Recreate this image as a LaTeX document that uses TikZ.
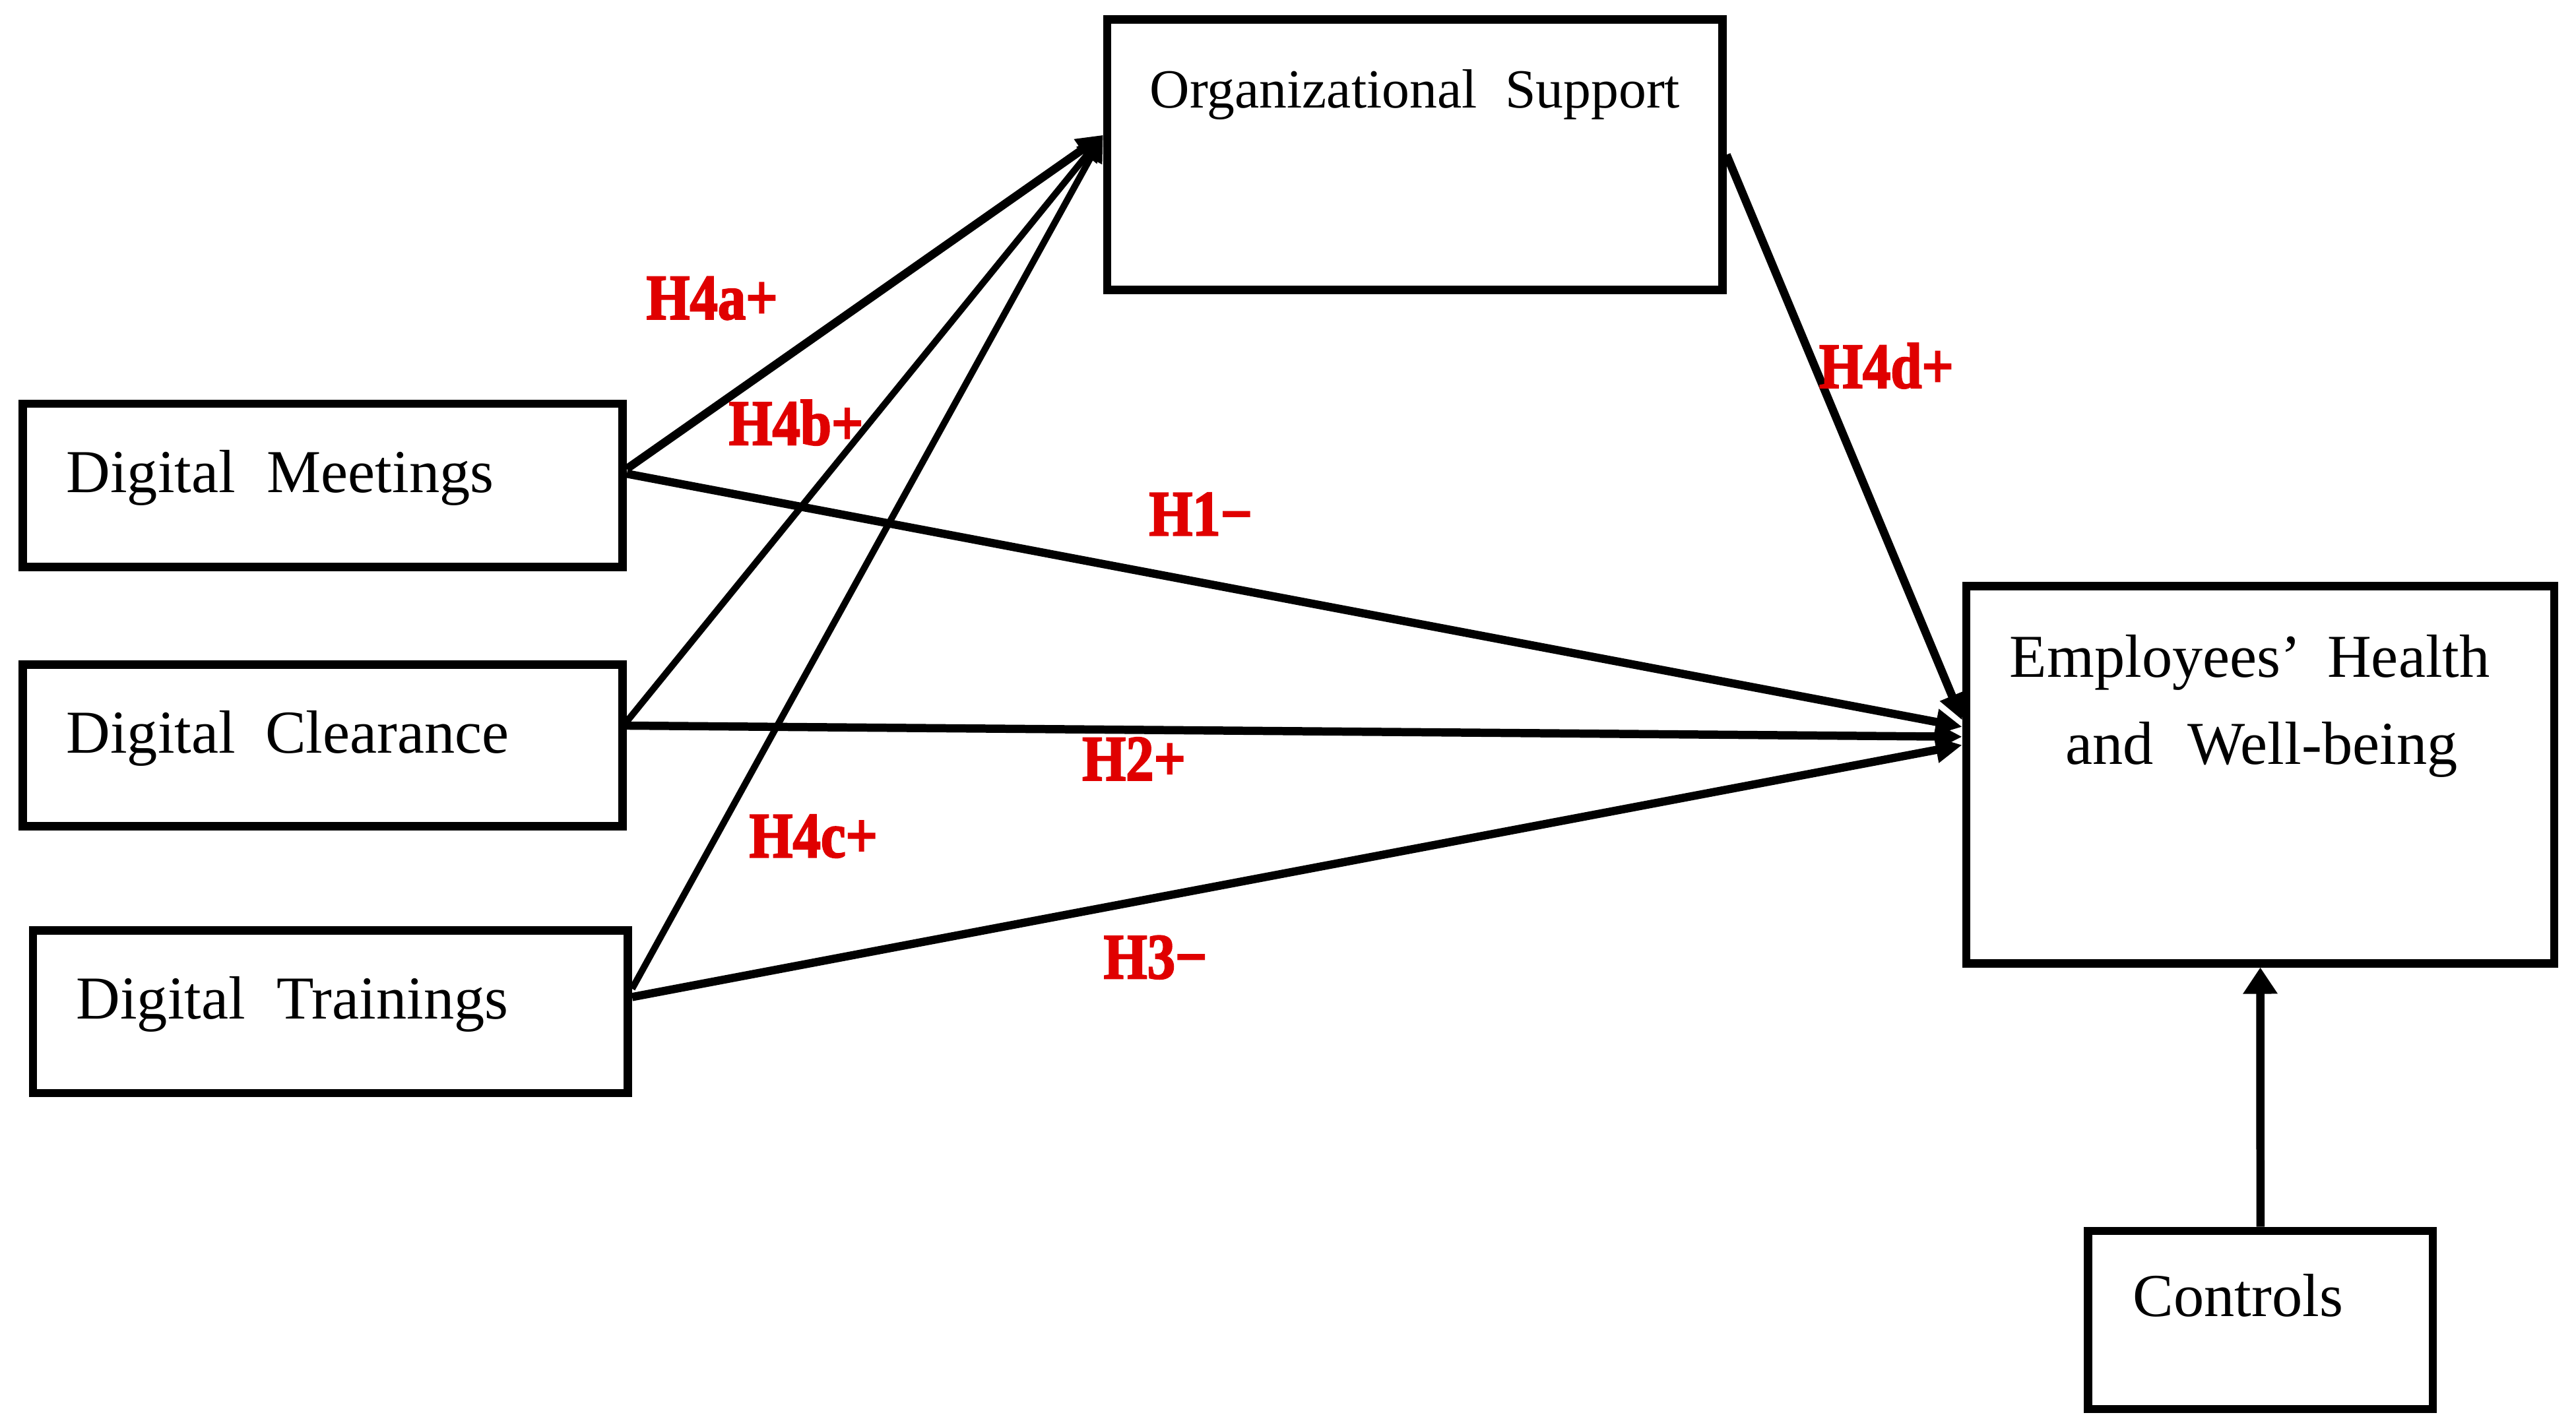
\documentclass[tikz,border=0pt]{standalone}
\usepackage{fontspec}
\usepackage{graphicx}
\setmainfont{Liberation Serif}
\newfontfamily\hypfont[BoldFeatures={FakeBold=2.5}]{Liberation Serif}
\usetikzlibrary{arrows.meta}
\definecolor{hred}{RGB}{224,0,0}
\tikzset{
  box/.style={draw, line width=5pt, inner sep=0pt},
  txt/.style={inner sep=0pt, font=\fontsize{37}{44}\selectfont},
  hyp/.style={inner sep=0pt, text=hred, font=\hypfont\fontsize{39}{44}\selectfont\bfseries},
  link/.style={line width=5pt, -{Triangle[length=16pt,width=15pt]}},
  thinlink/.style={line width=4pt, -{Triangle[length=16pt,width=15pt]}},
  ctrllink/.style={line width=5pt, -{Triangle[length=16pt,width=20pt]}},
}
\begin{document}
\begin{tikzpicture}[x=1pt,y=-1pt]
\useasboundingbox (0,0) rectangle (1562.9,858.7);
% boxes
\node[box, minimum width=363.9pt, minimum height=99pt] (dm) at (195.85,294.5) {};
\node[box, minimum width=363.9pt, minimum height=98.1pt] (dc) at (195.85,452.35) {};
\node[box, minimum width=361pt, minimum height=98.7pt] (dt) at (200.5,614.05) {};
\node[box, minimum width=373.2pt, minimum height=164.2pt] (os) at (858.4,93.9) {};
\node[box, minimum width=356.7pt, minimum height=229pt] (ehw) at (1371.35,470.1) {};
\node[box, minimum width=209.1pt, minimum height=108pt] (ctrl) at (1371.45,801) {};
% texts
\node[txt, anchor=base west] (dmt) at (40,299) {Digital\hspace{19pt}Meetings};
\node[txt, anchor=base west] (dct) at (40,457) {Digital\hspace{18pt}Clearance};
\node[txt, anchor=base west] (dtt) at (46,618.5) {Digital\hspace{19pt}Trainings};
\node[txt, anchor=base, font=\fontsize{33.5}{40}\selectfont] (ost) at (858.5,65.3) {Organizational\hspace{17pt}Support};
\node[txt, anchor=base] (ehwa) at (1365,411) {Employees’\hspace{16pt}Health};
\node[txt, anchor=base] (ehwb) at (1372,463.6) {and\hspace{21pt}Well-being};
\node[txt, anchor=base west] (ctt) at (1294,799) {Controls};
% connectors to organizational support
\draw[link] ([yshift=10pt]dm.east) -- ([yshift=12pt]os.west);
\draw[thinlink] ([yshift=14.5pt]dc.east) -- ([yshift=12pt]os.west);
\draw[thinlink] ([yshift=14pt]dt.east) -- ([yshift=12pt]os.west);
% connectors to employees' health
\draw[link] ([yshift=7pt]dm.east) -- ([yshift=29pt]ehw.west);
\draw[link] ([yshift=12pt]dc.east) -- ([yshift=23pt]ehw.west);
\draw[link] ([yshift=9pt]dt.east) -- ([yshift=18pt]ehw.west);
\draw[link] (os.east) -- ([yshift=33pt]ehw.west);
\draw[ctrllink] (ctrl.north) -- (ehw.south);
% hypothesis labels
\node[hyp] (h4a) at (432,181) {\scalebox{0.87}[1]{H4a+}};
\node[hyp] (h4b) at (483,256.5) {\scalebox{0.87}[1]{H4b+}};
\node[hyp] (h1) at (728.5,312) {\scalebox{0.87}[1]{H1−}};
\node[hyp] (h4d) at (1144.5,222) {\scalebox{0.87}[1]{H4d+}};
\node[hyp] (h2) at (688,460.5) {\scalebox{0.87}[1]{H2+}};
\node[hyp] (h4c) at (493.5,507.5) {\scalebox{0.87}[1]{H4c+}};
\node[hyp] (h3) at (701,581) {\scalebox{0.87}[1]{H3−}};
\end{tikzpicture}
\end{document}
